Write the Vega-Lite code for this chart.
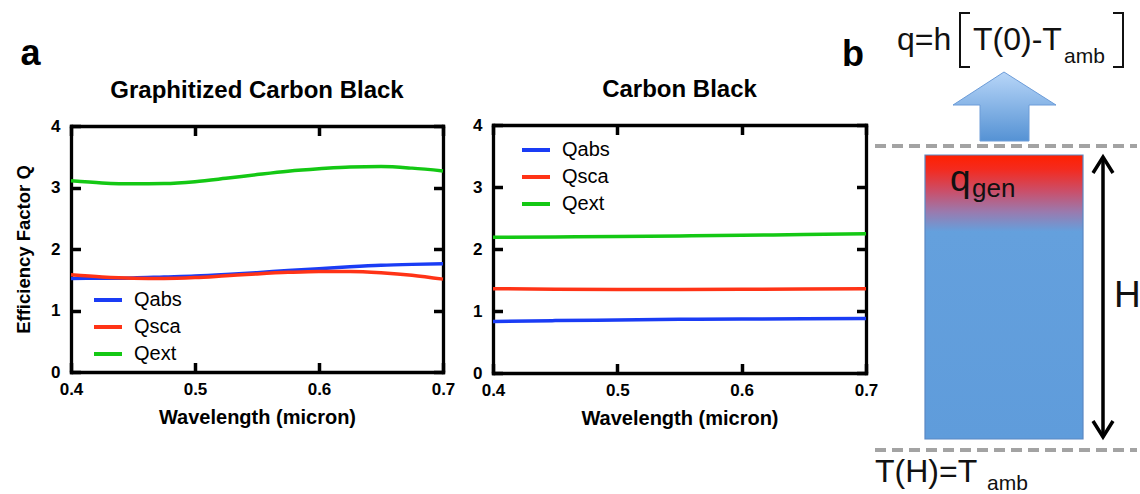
{
  "$schema": "https://vega.github.io/schema/vega-lite/v6.json",
  "background": "white",
  "padding": {"left": 14, "top": 5, "right": 0, "bottom": 0},
  "bounds": "flush",
  "center": true,
  "spacing": 50,
  "title": {"text": "a", "anchor": "start", "frame": "bounds", "fontSize": 36, "fontWeight": "bold", "baseline": "alphabetic", "offset": -96, "dx": 6},
  "config": {
    "font": "Liberation Sans",
    "view": {"stroke": null},
    "axis": {
      "domainColor": "#000", "domainWidth": 3.3, "domainCap": "square",
      "ticks": true, "tickColor": "#000", "tickWidth": 3.5, "tickSize": -9.5,
      "grid": false,
      "labelFont": "Liberation Sans", "labelFontSize": 17, "labelFontWeight": "bold", "labelColor": "#000",
      "labelFlush": false,
      "titleFont": "Liberation Sans", "titleFontSize": 20, "titleFontWeight": "bold", "titleColor": "#000"
    },
    "axisX": {"labelPadding": 18.5, "titlePadding": 10},
    "axisY": {"labelPadding": 20.5, "titlePadding": 17, "titleFontSize": 18.5},
    "title": {"fontSize": 24, "fontWeight": "bold", "color": "#000", "offset": 14, "font": "Liberation Sans"},
    "legend": {
      "title": null, "symbolType": "stroke", "symbolStrokeWidth": 4, "symbolSize": 784,
      "labelFont": "Liberation Sans", "labelFontSize": 20, "labelColor": "#000", "labelOffset": 10,
      "rowPadding": 1, "padding": 0
    }
  },
  "resolve": {"scale": {"color": "independent"}, "legend": {"color": "independent"}},
  "datasets": {
    "efficiency": [
      {"material": "Graphitized Carbon Black", "series": "Qabs", "wavelength": 0.4, "q": 1.52},
      {"material": "Graphitized Carbon Black", "series": "Qabs", "wavelength": 0.425, "q": 1.525},
      {"material": "Graphitized Carbon Black", "series": "Qabs", "wavelength": 0.45, "q": 1.53},
      {"material": "Graphitized Carbon Black", "series": "Qabs", "wavelength": 0.475, "q": 1.545},
      {"material": "Graphitized Carbon Black", "series": "Qabs", "wavelength": 0.5, "q": 1.56},
      {"material": "Graphitized Carbon Black", "series": "Qabs", "wavelength": 0.525, "q": 1.585},
      {"material": "Graphitized Carbon Black", "series": "Qabs", "wavelength": 0.55, "q": 1.615},
      {"material": "Graphitized Carbon Black", "series": "Qabs", "wavelength": 0.575, "q": 1.65},
      {"material": "Graphitized Carbon Black", "series": "Qabs", "wavelength": 0.6, "q": 1.68},
      {"material": "Graphitized Carbon Black", "series": "Qabs", "wavelength": 0.625, "q": 1.71},
      {"material": "Graphitized Carbon Black", "series": "Qabs", "wavelength": 0.65, "q": 1.735},
      {"material": "Graphitized Carbon Black", "series": "Qabs", "wavelength": 0.675, "q": 1.75},
      {"material": "Graphitized Carbon Black", "series": "Qabs", "wavelength": 0.7, "q": 1.76},
      {"material": "Graphitized Carbon Black", "series": "Qsca", "wavelength": 0.4, "q": 1.58},
      {"material": "Graphitized Carbon Black", "series": "Qsca", "wavelength": 0.425, "q": 1.545},
      {"material": "Graphitized Carbon Black", "series": "Qsca", "wavelength": 0.45, "q": 1.525},
      {"material": "Graphitized Carbon Black", "series": "Qsca", "wavelength": 0.475, "q": 1.52},
      {"material": "Graphitized Carbon Black", "series": "Qsca", "wavelength": 0.5, "q": 1.535},
      {"material": "Graphitized Carbon Black", "series": "Qsca", "wavelength": 0.525, "q": 1.565},
      {"material": "Graphitized Carbon Black", "series": "Qsca", "wavelength": 0.55, "q": 1.595},
      {"material": "Graphitized Carbon Black", "series": "Qsca", "wavelength": 0.575, "q": 1.62},
      {"material": "Graphitized Carbon Black", "series": "Qsca", "wavelength": 0.6, "q": 1.635},
      {"material": "Graphitized Carbon Black", "series": "Qsca", "wavelength": 0.625, "q": 1.635},
      {"material": "Graphitized Carbon Black", "series": "Qsca", "wavelength": 0.65, "q": 1.615},
      {"material": "Graphitized Carbon Black", "series": "Qsca", "wavelength": 0.675, "q": 1.575},
      {"material": "Graphitized Carbon Black", "series": "Qsca", "wavelength": 0.7, "q": 1.51},
      {"material": "Graphitized Carbon Black", "series": "Qext", "wavelength": 0.4, "q": 3.11},
      {"material": "Graphitized Carbon Black", "series": "Qext", "wavelength": 0.425, "q": 3.075},
      {"material": "Graphitized Carbon Black", "series": "Qext", "wavelength": 0.45, "q": 3.06},
      {"material": "Graphitized Carbon Black", "series": "Qext", "wavelength": 0.475, "q": 3.065},
      {"material": "Graphitized Carbon Black", "series": "Qext", "wavelength": 0.5, "q": 3.095},
      {"material": "Graphitized Carbon Black", "series": "Qext", "wavelength": 0.525, "q": 3.15},
      {"material": "Graphitized Carbon Black", "series": "Qext", "wavelength": 0.55, "q": 3.21},
      {"material": "Graphitized Carbon Black", "series": "Qext", "wavelength": 0.575, "q": 3.265},
      {"material": "Graphitized Carbon Black", "series": "Qext", "wavelength": 0.6, "q": 3.305},
      {"material": "Graphitized Carbon Black", "series": "Qext", "wavelength": 0.625, "q": 3.335},
      {"material": "Graphitized Carbon Black", "series": "Qext", "wavelength": 0.65, "q": 3.34},
      {"material": "Graphitized Carbon Black", "series": "Qext", "wavelength": 0.675, "q": 3.315},
      {"material": "Graphitized Carbon Black", "series": "Qext", "wavelength": 0.7, "q": 3.27},
      {"material": "Carbon Black", "series": "Qabs", "wavelength": 0.4, "q": 0.83},
      {"material": "Carbon Black", "series": "Qabs", "wavelength": 0.45, "q": 0.845},
      {"material": "Carbon Black", "series": "Qabs", "wavelength": 0.5, "q": 0.855},
      {"material": "Carbon Black", "series": "Qabs", "wavelength": 0.55, "q": 0.865},
      {"material": "Carbon Black", "series": "Qabs", "wavelength": 0.6, "q": 0.87},
      {"material": "Carbon Black", "series": "Qabs", "wavelength": 0.65, "q": 0.875},
      {"material": "Carbon Black", "series": "Qabs", "wavelength": 0.7, "q": 0.88},
      {"material": "Carbon Black", "series": "Qsca", "wavelength": 0.4, "q": 1.36},
      {"material": "Carbon Black", "series": "Qsca", "wavelength": 0.45, "q": 1.35},
      {"material": "Carbon Black", "series": "Qsca", "wavelength": 0.5, "q": 1.345},
      {"material": "Carbon Black", "series": "Qsca", "wavelength": 0.55, "q": 1.345},
      {"material": "Carbon Black", "series": "Qsca", "wavelength": 0.6, "q": 1.35},
      {"material": "Carbon Black", "series": "Qsca", "wavelength": 0.65, "q": 1.355},
      {"material": "Carbon Black", "series": "Qsca", "wavelength": 0.7, "q": 1.36},
      {"material": "Carbon Black", "series": "Qext", "wavelength": 0.4, "q": 2.19},
      {"material": "Carbon Black", "series": "Qext", "wavelength": 0.45, "q": 2.195},
      {"material": "Carbon Black", "series": "Qext", "wavelength": 0.5, "q": 2.2},
      {"material": "Carbon Black", "series": "Qext", "wavelength": 0.55, "q": 2.21},
      {"material": "Carbon Black", "series": "Qext", "wavelength": 0.6, "q": 2.22},
      {"material": "Carbon Black", "series": "Qext", "wavelength": 0.65, "q": 2.235},
      {"material": "Carbon Black", "series": "Qext", "wavelength": 0.7, "q": 2.245}
    ]
  },
  "hconcat": [
    {
      "title": "Graphitized Carbon Black",
      "width": 372,
      "height": 246,
      "layer": [
        {
          "data": {"name": "efficiency"},
          "transform": [{"filter": "datum.material === 'Graphitized Carbon Black' && datum.series !== 'Qext'"}],
          "mark": {"type": "line", "strokeWidth": 3.5, "interpolate": "monotone"},
          "encoding": {
            "x": {"field": "wavelength", "type": "quantitative", "scale": {"domain": [0.4, 0.7], "nice": false, "zero": false},
                  "axis": {"orient": "bottom", "values": [0.4, 0.5, 0.6, 0.7], "format": ".1f", "title": "Wavelength (micron)"}},
            "y": {"field": "q", "type": "quantitative", "scale": {"domain": [0, 4], "nice": false},
                  "axis": {"orient": "left", "values": [0, 1, 2, 3, 4], "format": "d", "title": "Efficiency Factor Q"}},
            "color": {"field": "series", "type": "nominal",
                      "scale": {"domain": ["Qabs", "Qsca", "Qext"], "range": ["#1a3cf5", "#ff3316", "#14c814"]},
                      "legend": {"orient": "none", "legendX": 21, "legendY": 158}}
          }
        },
        {
          "data": {"name": "efficiency"},
          "transform": [{"filter": "datum.material === 'Graphitized Carbon Black' && datum.series === 'Qext'"}],
          "mark": {"type": "line", "strokeWidth": 3.5, "interpolate": "monotone"},
          "encoding": {
            "x": {"field": "wavelength", "type": "quantitative", "scale": {"domain": [0.4, 0.7], "nice": false, "zero": false},
                  "axis": {"orient": "top", "values": [0.4, 0.5, 0.6, 0.7], "labels": false, "title": null}},
            "y": {"field": "q", "type": "quantitative", "scale": {"domain": [0, 4], "nice": false},
                  "axis": {"orient": "right", "values": [0, 1, 2, 3, 4], "labels": false, "title": null}},
            "color": {"field": "series", "type": "nominal",
                      "scale": {"domain": ["Qabs", "Qsca", "Qext"], "range": ["#1a3cf5", "#ff3316", "#14c814"]},
                      "legend": {"orient": "none", "legendX": 21, "legendY": 158}}
          }
        }
      ],
      "resolve": {"axis": {"x": "independent", "y": "independent"}}
    },
    {
      "title": "Carbon Black",
      "width": 373,
      "height": 248,
      "layer": [
        {
          "data": {"name": "efficiency"},
          "transform": [{"filter": "datum.material === 'Carbon Black' && datum.series !== 'Qext'"}],
          "mark": {"type": "line", "strokeWidth": 3.5, "interpolate": "monotone"},
          "encoding": {
            "x": {"field": "wavelength", "type": "quantitative", "scale": {"domain": [0.4, 0.7], "nice": false, "zero": false},
                  "axis": {"orient": "bottom", "values": [0.4, 0.5, 0.6, 0.7], "format": ".1f", "title": "Wavelength (micron)"}},
            "y": {"field": "q", "type": "quantitative", "scale": {"domain": [0, 4], "nice": false},
                  "axis": {"orient": "left", "values": [0, 1, 2, 3, 4], "format": "d", "title": null}},
            "color": {"field": "series", "type": "nominal",
                      "scale": {"domain": ["Qabs", "Qsca", "Qext"], "range": ["#1a3cf5", "#ff3316", "#14c814"]},
                      "legend": {"orient": "none", "legendX": 27, "legendY": 9}}
          }
        },
        {
          "data": {"name": "efficiency"},
          "transform": [{"filter": "datum.material === 'Carbon Black' && datum.series === 'Qext'"}],
          "mark": {"type": "line", "strokeWidth": 3.5, "interpolate": "monotone"},
          "encoding": {
            "x": {"field": "wavelength", "type": "quantitative", "scale": {"domain": [0.4, 0.7], "nice": false, "zero": false},
                  "axis": {"orient": "top", "values": [0.4, 0.5, 0.6, 0.7], "labels": false, "title": null}},
            "y": {"field": "q", "type": "quantitative", "scale": {"domain": [0, 4], "nice": false},
                  "axis": {"orient": "right", "values": [0, 1, 2, 3, 4], "labels": false, "title": null}},
            "color": {"field": "series", "type": "nominal",
                      "scale": {"domain": ["Qabs", "Qsca", "Qext"], "range": ["#1a3cf5", "#ff3316", "#14c814"]},
                      "legend": {"orient": "none", "legendX": 27, "legendY": 9}}
          }
        }
      ],
      "resolve": {"axis": {"x": "independent", "y": "independent"}}
    },
    {
      "width": 224,
      "height": 488,
      "encoding": {
        "x": {"field": "x", "type": "quantitative", "scale": {"domain": [75, 299], "nice": false, "zero": false}, "axis": null},
        "y": {"field": "y", "type": "quantitative", "scale": {"domain": [5, 493], "nice": false, "zero": false, "reverse": true}, "axis": null}
      },
      "layer": [
        {
          "data": {"values": [{"boundary": "surface", "x": 34, "x2": 296, "y": 146}, {"boundary": "base", "x": 34, "x2": 296, "y": 450}]},
          "mark": {"type": "rule", "stroke": "#a3a3a3", "strokeWidth": 4, "strokeDash": [11, 6]},
          "encoding": {"x2": {"field": "x2"}}
        },
        {
          "data": {"values": [{"part": "slab", "x": 84, "x2": 242, "y": 155, "y2": 439}]},
          "mark": {
            "type": "rect", "stroke": "#5a88c4", "strokeWidth": 1.2,
            "fill": {"gradient": "linear", "x1": 0, "y1": 0, "x2": 0, "y2": 1,
                     "stops": [{"offset": 0, "color": "#ff2000"}, {"offset": 0.05, "color": "#f42a1e"},
                               {"offset": 0.13, "color": "#c9506c"}, {"offset": 0.2, "color": "#9a7aae"},
                               {"offset": 0.27, "color": "#64a0dd"}, {"offset": 1, "color": "#5f9cdb"}]}
          },
          "encoding": {"x2": {"field": "x2"}, "y2": {"field": "y2"}}
        },
        {
          "data": {"values": [
            {"x": 163, "x2": 163, "y": 72},
            {"x": 112, "x2": 215, "y": 105},
            {"x": 139, "x2": 188, "y": 105.01},
            {"x": 139, "x2": 188, "y": 141}
          ]},
          "mark": {
            "type": "area", "orient": "horizontal", "stroke": "#6c9cd8", "strokeWidth": 1,
            "fill": {"gradient": "linear", "x1": 0, "y1": 0, "x2": 0, "y2": 1,
                     "stops": [{"offset": 0, "color": "#b8d6f8"}, {"offset": 1, "color": "#5592d4"}]}
          },
          "encoding": {"x2": {"field": "x2"}}
        },
        {
          "data": {"values": [
            {"part": "left", "pt": 1, "x": 129, "y": 13}, {"part": "left", "pt": 2, "x": 119, "y": 13},
            {"part": "left", "pt": 3, "x": 119, "y": 67}, {"part": "left", "pt": 4, "x": 129, "y": 67},
            {"part": "right", "pt": 1, "x": 272, "y": 13}, {"part": "right", "pt": 2, "x": 282, "y": 13},
            {"part": "right", "pt": 3, "x": 282, "y": 67}, {"part": "right", "pt": 4, "x": 272, "y": 67}
          ]},
          "mark": {"type": "line", "stroke": "#111", "strokeWidth": 2, "strokeJoin": "miter"},
          "encoding": {"detail": {"field": "part"}, "order": {"field": "pt"}}
        },
        {
          "data": {"values": [
            {"part": "shaft", "pt": 1, "x": 262, "y": 158}, {"part": "shaft", "pt": 2, "x": 262, "y": 436},
            {"part": "top", "pt": 1, "x": 252, "y": 173}, {"part": "top", "pt": 2, "x": 262, "y": 157}, {"part": "top", "pt": 3, "x": 272, "y": 173},
            {"part": "bottom", "pt": 1, "x": 252, "y": 421}, {"part": "bottom", "pt": 2, "x": 262, "y": 437}, {"part": "bottom", "pt": 3, "x": 272, "y": 421}
          ]},
          "mark": {"type": "line", "stroke": "#000", "strokeWidth": 3.5, "strokeJoin": "miter"},
          "encoding": {"detail": {"field": "part"}, "order": {"field": "pt"}}
        },
        {
          "data": {"values": [
            {"label": "q=h", "x": 56, "y": 50},
            {"label": "T(0)-T", "x": 132, "y": 50},
            {"label": "T(H)=T", "x": 34, "y": 482}
          ]},
          "mark": {"type": "text", "fontSize": 32, "align": "left", "baseline": "alphabetic", "color": "#111"},
          "encoding": {"text": {"field": "label"}}
        },
        {
          "data": {"values": [
            {"label": "amb", "x": 223, "y": 63},
            {"label": "amb", "x": 146, "y": 490}
          ]},
          "mark": {"type": "text", "fontSize": 21, "align": "left", "baseline": "alphabetic", "color": "#111"},
          "encoding": {"text": {"field": "label"}}
        },
        {
          "data": {"values": [
            {"label": "q", "x": 109, "y": 191},
            {"label": "H", "x": 273, "y": 307}
          ]},
          "mark": {"type": "text", "fontSize": 37, "align": "left", "baseline": "alphabetic", "color": "#111"},
          "encoding": {"text": {"field": "label"}}
        },
        {
          "data": {"values": [{"label": "gen", "x": 131, "y": 197}]},
          "mark": {"type": "text", "fontSize": 26, "align": "left", "baseline": "alphabetic", "color": "#111"},
          "encoding": {"text": {"field": "label"}}
        },
        {
          "data": {"values": [{"label": "b", "x": 1, "y": 66}]},
          "mark": {"type": "text", "fontSize": 36, "fontWeight": "bold", "align": "left", "baseline": "alphabetic", "color": "#000"},
          "encoding": {"text": {"field": "label"}}
        }
      ]
    }
  ]
}
